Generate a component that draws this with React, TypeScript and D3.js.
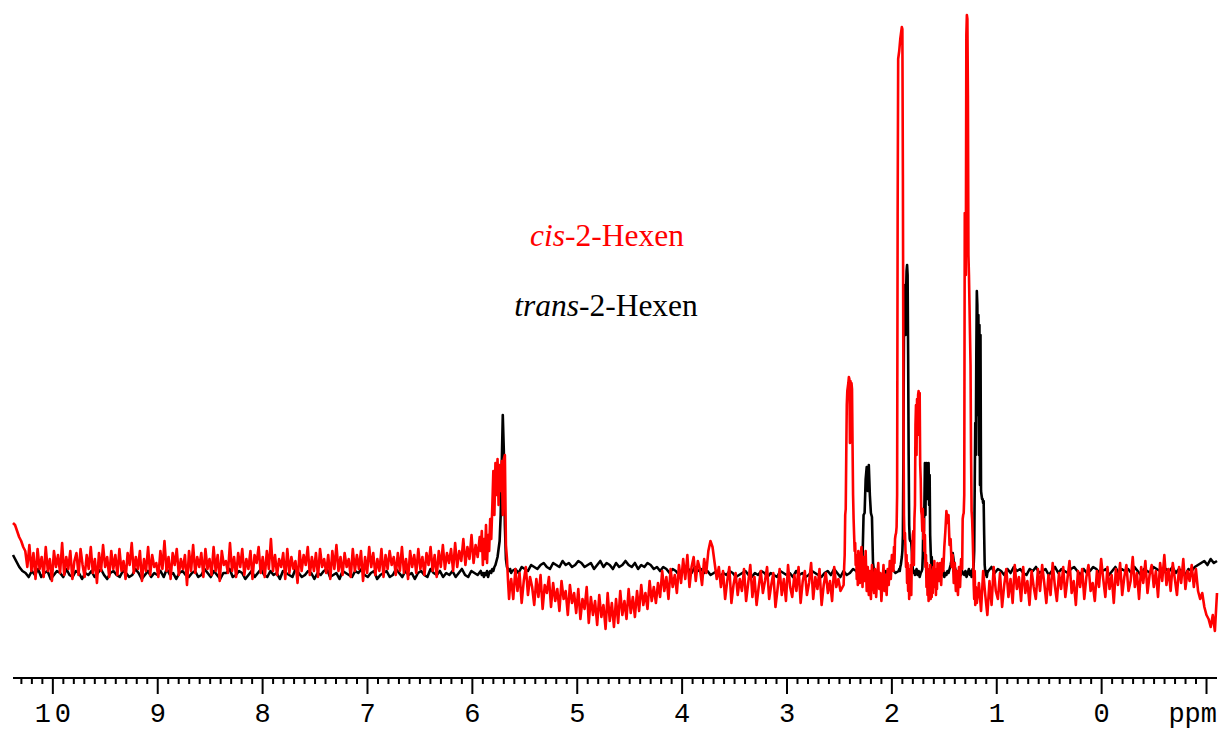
import React from "react";
import * as d3 from "d3";

// ---- axis / labels ----
const ppmStart = 10.38;
const ppmEnd = -1.1;
const majorTicks = [10, 9, 8, 7, 6, 5, 4, 3, 2, 1, 0, -1];
const tickLabels = ["10", "9", "8", "7", "6", "5", "4", "3", "2", "1", "0"];
const unitLabel = "ppm";
const cisName = ["cis", "-2-Hexen"];
const transName = ["trans", "-2-Hexen"];

// ---- trans-2-Hexen (black) intensity samples, arbitrary units ----
const transA = [10,7,4,2,1,-1,2,0,3,-1,1,2,-2,0,2,1,-1,3,0,-1,2,1,-2,1,0,2,-1,1,3,0,-2,1,2,0,-1,2,1,-1,0,3,1,-2,0,2,-1,1,0,2,-1,3,0,1,-2,1,2,0,-1,1,2,-1,0,3,1,-1,2,0,-2,1,1,3,-1,0,2,1,-2,0,2,-1,1,3,0,-1,2,0,1,-2,2,1,0,-1,3,1,-1,0,2,1,-2,1,0,2,3,-1,0,1,-2,2,1,0,-1,2,1,3,0,-1,1,2,-2,0,1,2,-1,0,3,1,-1,2,0,1,-2,1,2,0,-1,3,1,0,2,-1,1,0,2,-1,1,3,0,-1,2,1,0,2];
const transB = [0,1,-1,1,0,2,-1,1,2,1,3,2,4,5,7,9,13,17,30,55,80,62,25,8,4,3,2,3,1];
const transC = [2,3,1,4,3,2,5,4,3,5,6,4,3,6,5,4,7,5,6,4,5,7,6,4,5,6,3,5,7,4,6,5,3,6,4,5,7,5,4,6,3,5,4,6,5,3,4,2,4,3,1,3,2,0,2];
const transD = [2,3,1,4,2,3,1,2,0,1,2,-1,1,0,2,1,-1,0,1,2,0,-1,1,0,2,1,-1,1,0,-1,2,1,0,1,-1,2,0,1,-1,0,2,1,0,-1,1,2,0,3,1,-1,2,0,1,3,2];
const transE = [1,-1,2,0,3,8,30,31,48,54,42,55,40,31,29,6,2,0,2,-1,1];
const transF = [1,-1,2,0,3,1,2];
const transG = [3,2,4,5,7,9,12,20,60,120,140,145,120,140,152,155,150,110,60,25,18,17,17,16,12,6,3,2,1,2,0];
const transH = [1,3,0,2,-1,1,2];
const transI = [3,10,28,22,35,56,30,50,56,38,55,45,56,35,50,20,12,6,9,4,2,0,1];
const transJ = [1,-1,2,0,1,-2,1,0,2,-1,1,0,2,1,3,5,8,11,7,4,2,0,1,-1,1,0,2,1];
const transK = [0,2,-1,1,3,0];
const transL = [0,2,-1,1,3,2,5,12,45,76,60,110,142,135,80,130,60,125,45,120,42,40,38,38,36,37,20,5,2,0,2,-1,1];
const transM = [2,4,1,3,2,0,3,1,4,2,3,1,0,3,2,4,1,2,3,0,2,4,1,3,2,1,3,4,2,0,3,1,2,4,3,1,2,3,0,2,4,1,3,2,3,1,4,2,0,3,2,1,4,3,2,1,3,2,4,1,3,2,0,3,2,4,5,6,7,5,8,6,7];

// ---- cis-2-Hexen (red) intensity samples, arbitrary units ----
const cisA = [26,25,22,19,17,14,12,4,15,2,11,-2,13,3,9,-1,14,2,8,-3,12,4,10,1,16,0,9,3,12,-2,7,11,0,13,5,-1,10,3,14,1,8,-4,11,2,15,4,9,-1,12,3,10,0,13,2,7,-2,11,5,16,1,9,3,12,-3,8,2,14,0,10,4,6,-1,12,3,17,2,9,-2,11,5,13,0,8,3,10,-5,12,2,15,1,9,4,11,-1,13,3,8,0,14,2,10,-3,12,5,7,1,16,2,9,-1,11,4,13,0,8,3,12,-2,10,6,14,1,9,-1,12,3,18,2,10,0,8,4,11,-2,13,1,9,3,7,-4,12,2,10,5,14,0,9,2,11,-1,13,4,8,1,10,-2,12,3,15,2,9,0,11,4,8,-1,13,2,10,3,12,-3,9,1,14,4,11,0,8,2,13,-1,10,3,12,5,9,0,11,2,14,1,8,-2,12,4,10,1,13,3,9,0,11,5,14,2,10,-1,12,4,15,3,11,6,13,2,16,4,12,7,18,5,14,8,20,6,15,9,19];
const cisB = [12,22,5,18,8,25,6,20,12,28,18,34,52,30,56,40,58,35,55,42,57,30,58,60,15,8,-3,-12,-5];
const cisC = [-2,-12,3,-8,1,-14,-3,4,-10,-1,-6,-15,-2,-11,0,-17,-5,-9,-1,-16,-4,-13,-7,-18,-3,-12,-8,-20,-5,-14,-9,-19,-7,-22,-12,-17,-6,-24,-11,-20,-13,-25,-10,-21,-15,-27,-9,-23,-14,-26,-12,-24,-8,-20,-13,-22,-7,-19,-11,-21,-8,-18,-5,-15,-9,-17,-3,-13,-6,-14,-4,-11,2,-8,-1,-12,3,-6,0,-9,5,-4,8,-2,10,-6,4,9,-3,7,3,-5,8,1,12,17,14,6,-2,4,-6,2,-12,-3,4,-14,-5,1,-10,-2,-8,3,-13,-4,5,-11,-1,-15,-6,2,-9,-3,4,-12,-5,1,-16,-7,3,-10,-2,-13,5,-6,-11,0,-8,4,-14,-3,2,-10,-4,6,-12,-1,-7,3,-15,-5,1,-9,-3,-13,4,-6,-2,-8];
const cisD = [-5,4,10,30,33,60,85,92,94,96,99,98,66,97,95,96,93,65,40,28,20,12,16,5,10,-2,8,-5,12,2,6,-4,8];
const cisE = [14,-6,9,-3,12,-8,4,-10,2,-12,5,-4,-9,3,-11,-2,6,-7,1,-13,-4,5,-8,0,-10,3,-5,7,-2,10];
const cisF = [10,2,14,6,18,20,21,24,40,180,258,260,262,265,268,270,272,274,273,200,90,30,18,21,12,4,10,-4,6,-8,3,-12,2,-6,5,-10,8,14,20];
const cisG = [22,5,28,35,75,85,60,88,70,90,92,75,91,55,48,32,30,22,33,18,28,12,20,4,10,-6,6,-10,3,-13,0,-8,5,-12,-3,-11,2,-9,4,-6,7,-4,3,-10,1,-7,6,-2];
const cisH = [-3,6,-5,8,2,14,22,32,26,30,15,18,4,10,-4,6,-8,2,-10,4,-6,8,3];
const cisI = [28,30,31,40,181,176,150,270,280,278,240,160,150,135,120,105,60,32,28,20,10,-5,-12,2,-15,-6];
const cisJ = [-14,-4,-18,2,-10,-20,-3,-15,4,-8,-12,1,-16,-5,3,-11,-2,-14,5,-7,-1,-13,4,-9,-3,-15,2,-6,-12,3,-8,5,-4,-14,0,-10,6,-5,-13,1,-7,4,-11,-2,7,-9,-3,-15,2,-6,3,-12,-1,5,-8,-4,-13,2,-6,8,-2,-11,4,-7,0,-14,3,-5,6,-10,-1,5,-8,-3,9,-6,1,-12,4,-4,7,-9,0,5,-6,2,-11,6,-3,10,-5,3,-8,6,-2,-10,4,-4,8,-7,2,-3,5,-6,3,-8,-12,-9,-16,-20,-22,-26,-20,-28,-9];

type Segment = { from: number; to: number; values: number[] };

const transSegments: Segment[] = [
  { from: 10.38, to: 5.92, values: transA },
  { from: 5.91, to: 5.63, values: transB },
  { from: 5.62, to: 4.0, values: transC },
  { from: 3.97, to: 2.34, values: transD },
  { from: 2.33, to: 2.13, values: transE },
  { from: 2.12, to: 1.935, values: transF },
  { from: 1.93, to: 1.78, values: transG },
  { from: 1.775, to: 1.715, values: transH },
  { from: 1.71, to: 1.6, values: transI },
  { from: 1.59, to: 1.32, values: transJ },
  { from: 1.31, to: 1.255, values: transK },
  { from: 1.25, to: 1.09, values: transL },
  { from: 1.08, to: -1.1, values: transM },
];

const cisSegments: Segment[] = [
  { from: 10.38, to: 5.93, values: cisA },
  { from: 5.92, to: 5.64, values: cisB },
  { from: 5.63, to: 2.49, values: cisC },
  { from: 2.46, to: 2.3, values: cisD },
  { from: 2.29, to: 2.0, values: cisE },
  { from: 1.99, to: 1.8, values: cisF },
  { from: 1.795, to: 1.56, values: cisG },
  { from: 1.55, to: 1.33, values: cisH },
  { from: 1.325, to: 1.2, values: cisI },
  { from: 1.19, to: -1.1, values: cisJ },
];

function toPoints(segs: Segment[]): [number, number][] {
  const pts: [number, number][] = [];
  segs.forEach((s) => {
    const n = s.values.length;
    s.values.forEach((v, i) => {
      const p = n > 1 ? s.from + ((s.to - s.from) * i) / (n - 1) : s.from;
      pts.push([p, v]);
    });
  });
  return pts;
}

export default function App() {
  const W = 1221;
  const H = 731;
  const x = d3.scaleLinear().domain([ppmStart, ppmEnd]).range([13, 1217]);
  const y = d3.scaleLinear().domain([0, 280]).range([575, 15]);
  const line = d3
    .line<[number, number]>()
    .x((d) => x(d[0]))
    .y((d) => y(d[1]));

  const transPath = line(toPoints(transSegments)) || "";
  const cisPath = line(toPoints(cisSegments)) || "";

  const axisY = 678;
  const minorTicks = d3
    .range(103, -11, -1)
    .map((v) => v / 10)
    .filter((v) => Math.abs(v - Math.round(v)) > 1e-6);

  const monoFont = "'Liberation Mono', 'DejaVu Sans Mono', monospace";
  const serifFont = "'Liberation Serif', 'Times New Roman', serif";

  return (
    <svg
      width={W}
      height={H}
      style={{ position: "absolute", left: 0, top: 0, background: "#fff" }}
    >
      <path d={transPath} fill="none" stroke="#000" strokeWidth={2.6} strokeLinejoin="round" />
      <path d={cisPath} fill="none" stroke="#ff0000" strokeWidth={2.6} strokeLinejoin="round" />

      <text x={607} y={246} textAnchor="middle" fontFamily={serifFont} fontSize={31.5} fill="#ff0000">
        <tspan fontStyle="italic">{cisName[0]}</tspan>
        <tspan>{cisName[1]}</tspan>
      </text>
      <text x={606} y={316} textAnchor="middle" fontFamily={serifFont} fontSize={31.5} fill="#000">
        <tspan fontStyle="italic">{transName[0]}</tspan>
        <tspan>{transName[1]}</tspan>
      </text>

      <line x1={x(ppmStart)} x2={x(ppmEnd)} y1={axisY} y2={axisY} stroke="#000" strokeWidth={2} />
      {minorTicks.map((t) => (
        <line key={"m" + t} x1={x(t)} x2={x(t)} y1={axisY} y2={axisY + 6} stroke="#000" strokeWidth={2} />
      ))}
      {majorTicks.map((t) => (
        <line key={"M" + t} x1={x(t)} x2={x(t)} y1={axisY} y2={axisY + 16} stroke="#000" strokeWidth={2} />
      ))}
      {tickLabels.map((lab, i) => (
        <text
          key={"l" + lab}
          x={x(majorTicks[i]) + (lab.length > 1 ? 2 : 0)}
          y={722}
          textAnchor="middle"
          fontFamily={monoFont}
          fontSize={27}
          letterSpacing={lab.length > 1 ? 4 : 0}
          fill="#000"
        >
          {lab}
        </text>
      ))}
      <text x={1217} y={722} textAnchor="end" fontFamily={monoFont} fontSize={27} fill="#000">
        {unitLabel}
      </text>
    </svg>
  );
}
